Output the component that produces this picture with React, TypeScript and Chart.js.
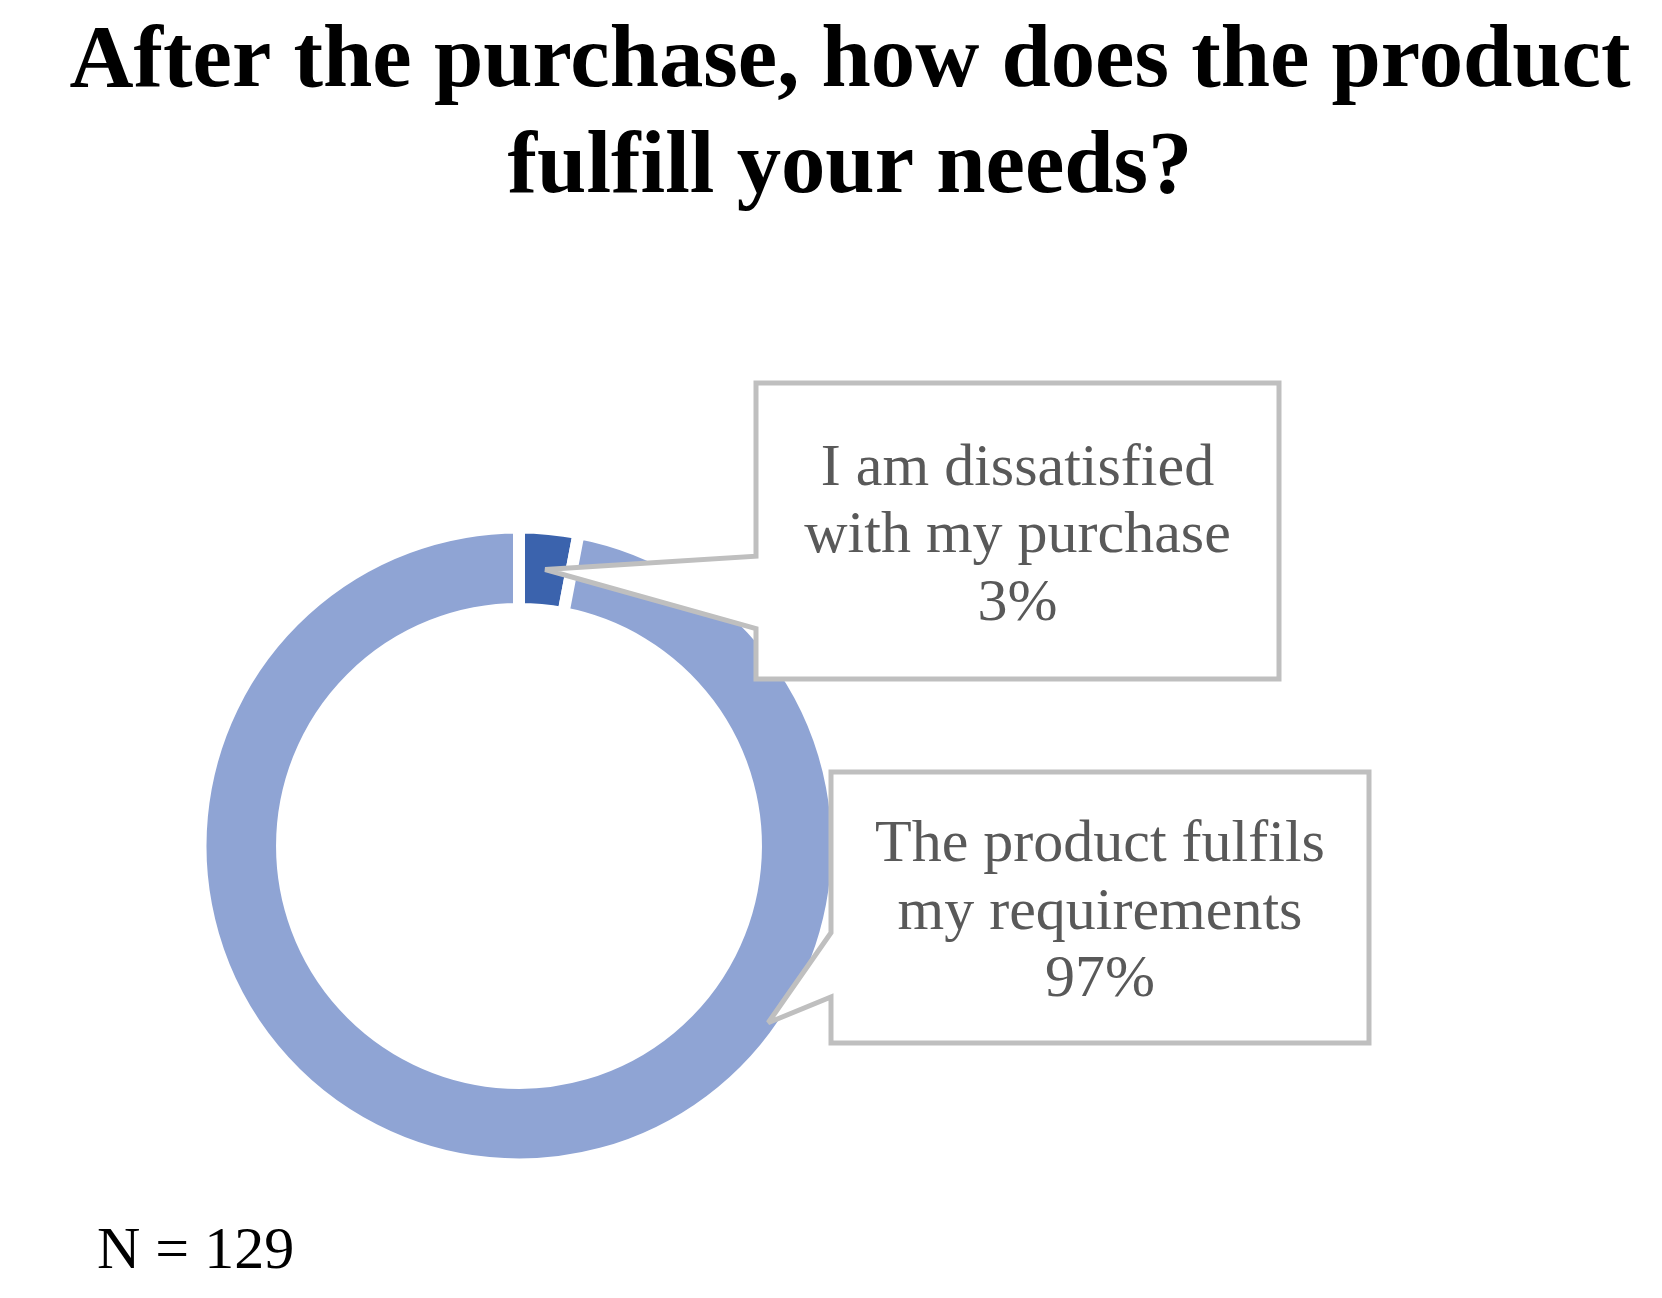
import React, { useEffect, useRef } from 'react';
import { Chart, registerables } from 'chart.js';

Chart.register(...registerables);

// ---- data ----
const titleLines = ['After the purchase, how does the product', 'fulfill your needs?'];
const categories = ['I am dissatisfied with my purchase', 'The product fulfils my requirements'];
const categoryLines = [
  ['I am dissatisfied', 'with my purchase'],
  ['The product fulfils', 'my requirements'],
];
const shares = [3, 97];
const sampleNote = 'N = 129';

// ---- styles ----
const sliceColors = ['#3B63AD', '#8FA4D4'];
const serif = '"Liberation Serif", "Times New Roman", Times, serif';

const calloutBoxes = [
  { left: 756, top: 383, right: 1279, bottom: 679, wedgeTop: 0.585, wedgeBottom: 0.83, anchor: -1, inset: 0 },
  { left: 831, top: 772, right: 1369, bottom: 1043, wedgeTop: 0.593, wedgeBottom: 0.83, anchor: 0.328, inset: 13 },
];

const calloutPlugin = {
  id: 'callouts',
  afterDatasetsDraw(chart: any) {
    const ctx = chart.ctx as CanvasRenderingContext2D;
    const meta = chart.getDatasetMeta(0);
    const data = chart.data.datasets[0].data as number[];
    const total = data.reduce((a, b) => a + b, 0);
    meta.data.forEach((arc: any, i: number) => {
      const box = calloutBoxes[i];
      if (!box) return;
      const p = arc.getProps(['x', 'y', 'startAngle', 'endAngle', 'innerRadius', 'outerRadius'], true);
      let tip: { x: number; y: number };
      if (box.anchor < 0) {
        tip = arc.tooltipPosition(true);
      } else {
        const a = p.startAngle + box.anchor * (p.endAngle - p.startAngle);
        const r = p.outerRadius - box.inset;
        tip = { x: p.x + Math.cos(a) * r, y: p.y + Math.sin(a) * r };
      }
      const h = box.bottom - box.top;
      const wy1 = box.top + h * box.wedgeTop;
      const wy2 = box.top + h * box.wedgeBottom;
      ctx.save();
      ctx.beginPath();
      ctx.moveTo(box.left, box.top);
      ctx.lineTo(box.right, box.top);
      ctx.lineTo(box.right, box.bottom);
      ctx.lineTo(box.left, box.bottom);
      ctx.lineTo(box.left, wy2);
      ctx.lineTo(tip.x, tip.y);
      ctx.lineTo(box.left, wy1);
      ctx.closePath();
      ctx.fillStyle = '#ffffff';
      ctx.fill();
      ctx.lineWidth = 5;
      ctx.strokeStyle = '#BFBFBF';
      ctx.lineJoin = 'miter';
      ctx.miterLimit = 3;
      ctx.stroke();

      const pct = Math.round((data[i] / total) * 100) + '%';
      const lines = [...categoryLines[i], pct];
      ctx.fillStyle = '#595959';
      ctx.font = '60px ' + serif;
      ctx.textAlign = 'center';
      ctx.textBaseline = 'alphabetic';
      const cx = (box.left + box.right) / 2;
      const cy = (box.top + box.bottom) / 2;
      lines.forEach((t, j) => ctx.fillText(t, cx, cy + 21 + (j - 1) * 67.5));
      ctx.restore();
    });

    ctx.save();
    ctx.fillStyle = '#000000';
    ctx.font = '60px ' + serif;
    ctx.textAlign = 'left';
    ctx.textBaseline = 'alphabetic';
    ctx.fillText(sampleNote, 97, 1268);
    ctx.restore();
  },
};

export default function App() {
  const canvasRef = useRef<HTMLCanvasElement | null>(null);

  useEffect(() => {
    if (!canvasRef.current) return;
    const chart = new Chart(canvasRef.current, {
      type: 'doughnut',
      data: {
        labels: categories,
        datasets: [
          {
            data: shares,
            backgroundColor: sliceColors,
            borderColor: '#ffffff',
            borderWidth: 12,
            hoverOffset: 0,
          },
        ],
      },
      options: {
        animation: false,
        responsive: true,
        maintainAspectRatio: false,
        devicePixelRatio: 1,
        events: [],
        radius: 318.5,
        cutout: '74.4%',
        layout: { padding: { left: 38, right: 0, top: 0, bottom: 100 } },
        plugins: {
          legend: { display: false },
          tooltip: { enabled: false },
          title: {
            display: true,
            text: titleLines,
            color: '#000000',
            font: { family: serif, size: 88.7, weight: 'bold', lineHeight: 1.195 },
            padding: { top: 9.7, bottom: 272.3 },
          },
          subtitle: {
            display: true,
            position: 'right',
            text: '',
            font: { size: 1, lineHeight: 1 },
            padding: { top: 661, bottom: 0 },
          },
        },
      } as any,
      plugins: [calloutPlugin],
    });
    return () => chart.destroy();
  }, []);

  return (
    <div style={{ position: 'absolute', left: 0, top: 0, width: '1662px', height: '1298px', background: '#ffffff' }}>
      <canvas ref={canvasRef} />
    </div>
  );
}
